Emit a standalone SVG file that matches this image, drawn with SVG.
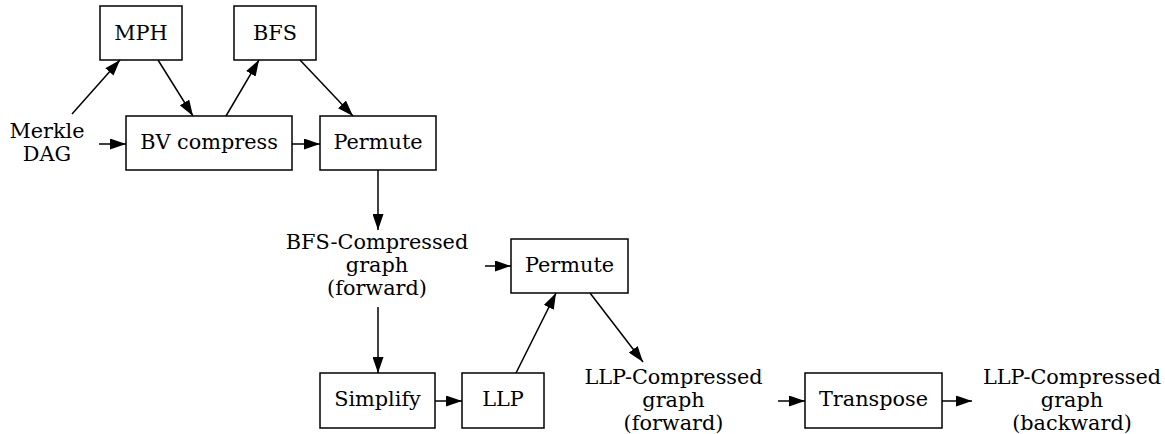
<svg xmlns="http://www.w3.org/2000/svg" width="1165" height="434" viewBox="0 0 1165 434">
<style>
.n rect{fill:#fff;stroke:#000;stroke-width:1.5}
text{font-family:"DejaVu Serif",serif;font-size:20.8px;fill:#000;text-anchor:middle}
.e line{stroke:#000;stroke-width:1.5}
</style>
<defs>
<marker id="a" viewBox="0 0 16 11" refX="16" refY="5.5" markerWidth="16" markerHeight="11" markerUnits="userSpaceOnUse" orient="auto">
<path d="M0,0L16,5.5L0,11z" fill="#000"/>
</marker>
</defs>
<rect width="1165" height="434" fill="#fff"/>
<g id="merkle"><text x="47" y="138">Merkle</text><text x="47" y="161">DAG</text></g>
<g id="mph" class="n"><rect x="100" y="6" width="82" height="54"/><text x="141" y="40">MPH</text></g>
<g id="bfs" class="n"><rect x="234" y="6" width="82" height="54"/><text x="275" y="40">BFS</text></g>
<g id="bv" class="n"><rect x="126" y="116" width="166" height="54"/><text x="209" y="149">BV compress</text></g>
<g id="permute1" class="n"><rect x="320" y="116" width="116" height="54"/><text x="378" y="149">Permute</text></g>
<g id="bfsgraph"><text x="377" y="249">BFS-Compressed</text><text x="377" y="272">graph</text><text x="377" y="295">(forward)</text></g>
<g id="permute2" class="n"><rect x="511" y="239" width="117" height="54"/><text x="569.5" y="272">Permute</text></g>
<g id="simplify" class="n"><rect x="320" y="373" width="115" height="55"/><text x="377.5" y="406">Simplify</text></g>
<g id="llp" class="n"><rect x="462" y="373" width="82" height="55"/><text x="503" y="406">LLP</text></g>
<g id="llpfwd"><text x="673.5" y="384">LLP-Compressed</text><text x="673.5" y="407">graph</text><text x="673.5" y="430">(forward)</text></g>
<g id="transpose" class="n"><rect x="805" y="373" width="137" height="55"/><text x="873.5" y="406">Transpose</text></g>
<g id="llpbwd"><text x="1072" y="384">LLP-Compressed</text><text x="1072" y="407">graph</text><text x="1072" y="430">(backward)</text></g>
<g id="connectors" class="e">
<line x1="72" y1="114" x2="120" y2="60" marker-end="url(#a)"/>
<line x1="158" y1="60" x2="193" y2="116" marker-end="url(#a)"/>
<line x1="226" y1="116" x2="259" y2="60" marker-end="url(#a)"/>
<line x1="300" y1="60" x2="353" y2="116" marker-end="url(#a)"/>
<line x1="99" y1="144" x2="126" y2="144" marker-end="url(#a)"/>
<line x1="292" y1="144" x2="320" y2="144" marker-end="url(#a)"/>
<line x1="378" y1="170" x2="378" y2="230" marker-end="url(#a)"/>
<line x1="485" y1="266" x2="511" y2="266" marker-end="url(#a)"/>
<line x1="378" y1="307" x2="378" y2="373" marker-end="url(#a)"/>
<line x1="435" y1="401" x2="462" y2="401" marker-end="url(#a)"/>
<line x1="516" y1="373" x2="556" y2="293" marker-end="url(#a)"/>
<line x1="590" y1="293" x2="643" y2="362" marker-end="url(#a)"/>
<line x1="778" y1="401" x2="805" y2="401" marker-end="url(#a)"/>
<line x1="942" y1="401" x2="972" y2="401" marker-end="url(#a)"/>
</g>
</svg>
